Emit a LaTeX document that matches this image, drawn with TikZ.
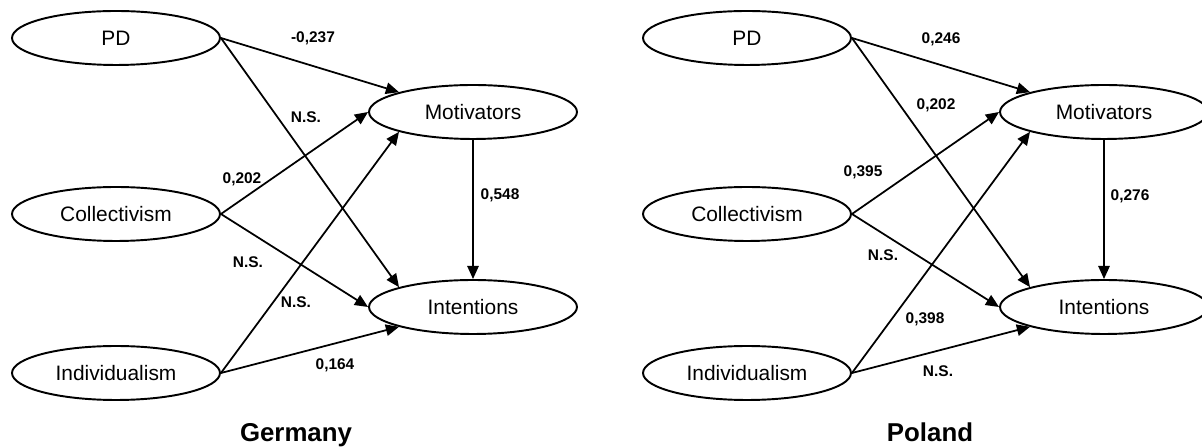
\documentclass[tikz,border=0pt]{standalone}
\usepackage{fontspec}
\setmainfont{Liberation Sans}
\usetikzlibrary{shapes.geometric,arrows.meta}

\begin{document}
\begin{tikzpicture}
[x=0.02cm,y=-0.02cm,
 var/.style={draw,ellipse,line width=1.1pt,minimum width=4.16cm,minimum height=1.08cm,inner sep=0pt,font=\fontsize{11.9}{14}\selectfont},
 coef/.style={font=\fontsize{8.8}{10}\selectfont\bfseries},
 panel/.style={anchor=base,font=\fontsize{14.7}{17}\selectfont\bfseries},
 link/.style={line width=1pt,-{Triangle[length=7.5pt,width=6.5pt]}}]
\useasboundingbox (0,0) rectangle (1202,448);

% Germany
\node[var] (g1) at (116,38) {PD};
\node[var] (g2) at (116,214) {Collectivism};
\node[var] (g3) at (116,373) {Individualism};
\node[var] (g4) at (473,112) {Motivators};
\node[var] (g5) at (473,307) {Intentions};

\node[coef] (g6) at (313,38) {-0,237};
\node[coef] (g7) at (306,117) {N.S.};
\node[coef] (g8) at (242,179) {0,202};
\node[coef] (g9) at (500,195) {0,548};
\node[coef] (g10) at (248,262) {N.S.};
\node[coef] (g11) at (296,302) {N.S.};
\node[coef] (g12) at (335,365) {0,164};
\node[panel] (g13) at (296,441) {Germany};

% Poland
\node[var] (p1) at (747,38) {PD};
\node[var] (p2) at (747,214) {Collectivism};
\node[var] (p3) at (747,373) {Individualism};
\node[var] (p4) at (1104,112) {Motivators};
\node[var] (p5) at (1104,307) {Intentions};

\node[coef] (p6) at (941,39) {0,246};
\node[coef] (p7) at (936,105) {0,202};
\node[coef] (p8) at (863,172) {0,395};
\node[coef] (p9) at (1130,196) {0,276};
\node[coef] (p10) at (883,255) {N.S.};
\node[coef] (p11) at (925,319) {0,398};
\node[coef] (p12) at (938,371) {N.S.};
\node[panel] (p13) at (930,441) {Poland};

\foreach \c in {g,p}
\foreach \from/\to in {1.east/4.165,1.east/5.165,2.east/4.west,2.east/5.west,3.east/4.195,3.east/5.195,4.south/5.north}
\draw[link] (\c\from) -- (\c\to);
\end{tikzpicture}
\end{document}
